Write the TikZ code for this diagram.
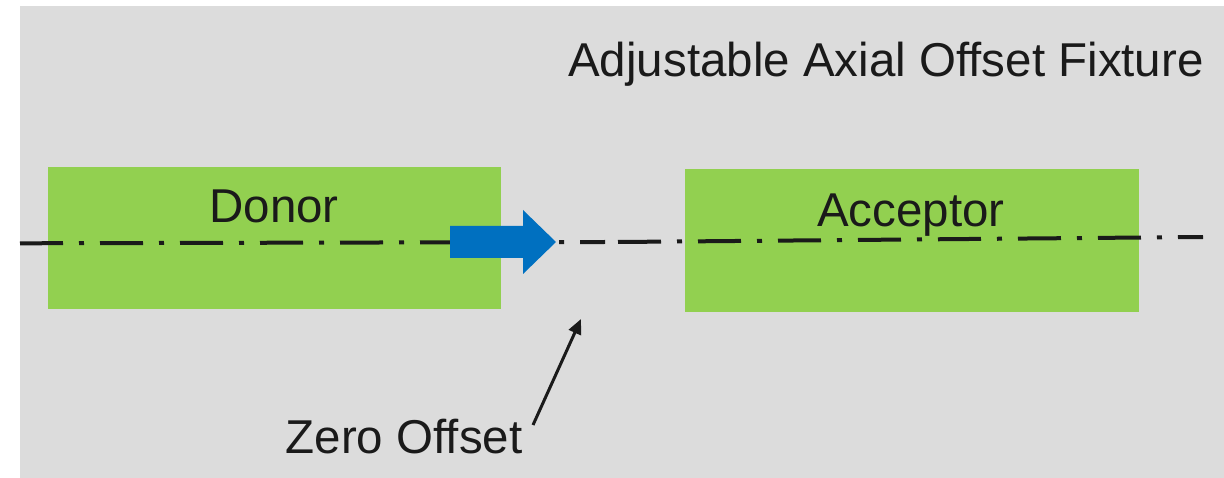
\documentclass[tikz,border=0pt]{standalone}
\usepackage{fontspec}
\setmainfont{Liberation Sans}
\usetikzlibrary{arrows.meta,shapes.arrows}
\definecolor{bg}{HTML}{DCDCDC}
\definecolor{boxgreen}{HTML}{92D050}
\definecolor{arrowblue}{HTML}{0070C0}
\definecolor{ink}{HTML}{1A1A1A}
\tikzset{
  part/.style={fill=boxgreen, draw=none},
  lbl/.style={font=\fontsize{47.5}{50}\selectfont, text=ink, inner sep=0pt, anchor=base},
  axis/.style={draw=ink, line width=4pt, dash pattern=on 43pt off 16pt on 5pt off 16pt},
  pointer/.style={draw=ink, line width=3pt, -{Triangle[length=15pt,width=13pt]}}
}
\begin{document}
\begin{tikzpicture}[x=1pt,y=-1pt]
\useasboundingbox (0,0) rectangle (1224,478);
\fill[bg] (20,6) rectangle (1224,478);
% boxes
\fill[part] (48,167) rectangle (501,309);
\fill[part] (685,169) rectangle (1139,312);
\coordinate (donorc) at (274,223);
\coordinate (accc) at (911,227);
\node[lbl] (donor) at (donorc) {Donor};
\node[lbl] (acceptor) at (accc) {Acceptor};
% axis lines
\coordinate (a1) at (20,243.3);
\coordinate (a2) at (605,242);
\coordinate (b1) at (618,242);
\coordinate (b2) at (1203,237);
\draw[axis] (a1) -- (a2);
\draw[axis] (b1) -- (b2);
% blue arrow
\fill[arrowblue] (450,226) -- (523,226) -- (523,210) -- (556,242) -- (523,274) -- (523,258) -- (450,258) -- cycle;
% title
\node[lbl] (title) at (886,77) {Adjustable Axial Offset Fixture};
% zero offset
\node[lbl] (zero) at (404,453) {Zero Offset};
\coordinate (ztail) at (533,425);
\coordinate (ztip) at (581,319);
\draw[pointer] (ztail) -- (ztip);
\end{tikzpicture}
\end{document}
